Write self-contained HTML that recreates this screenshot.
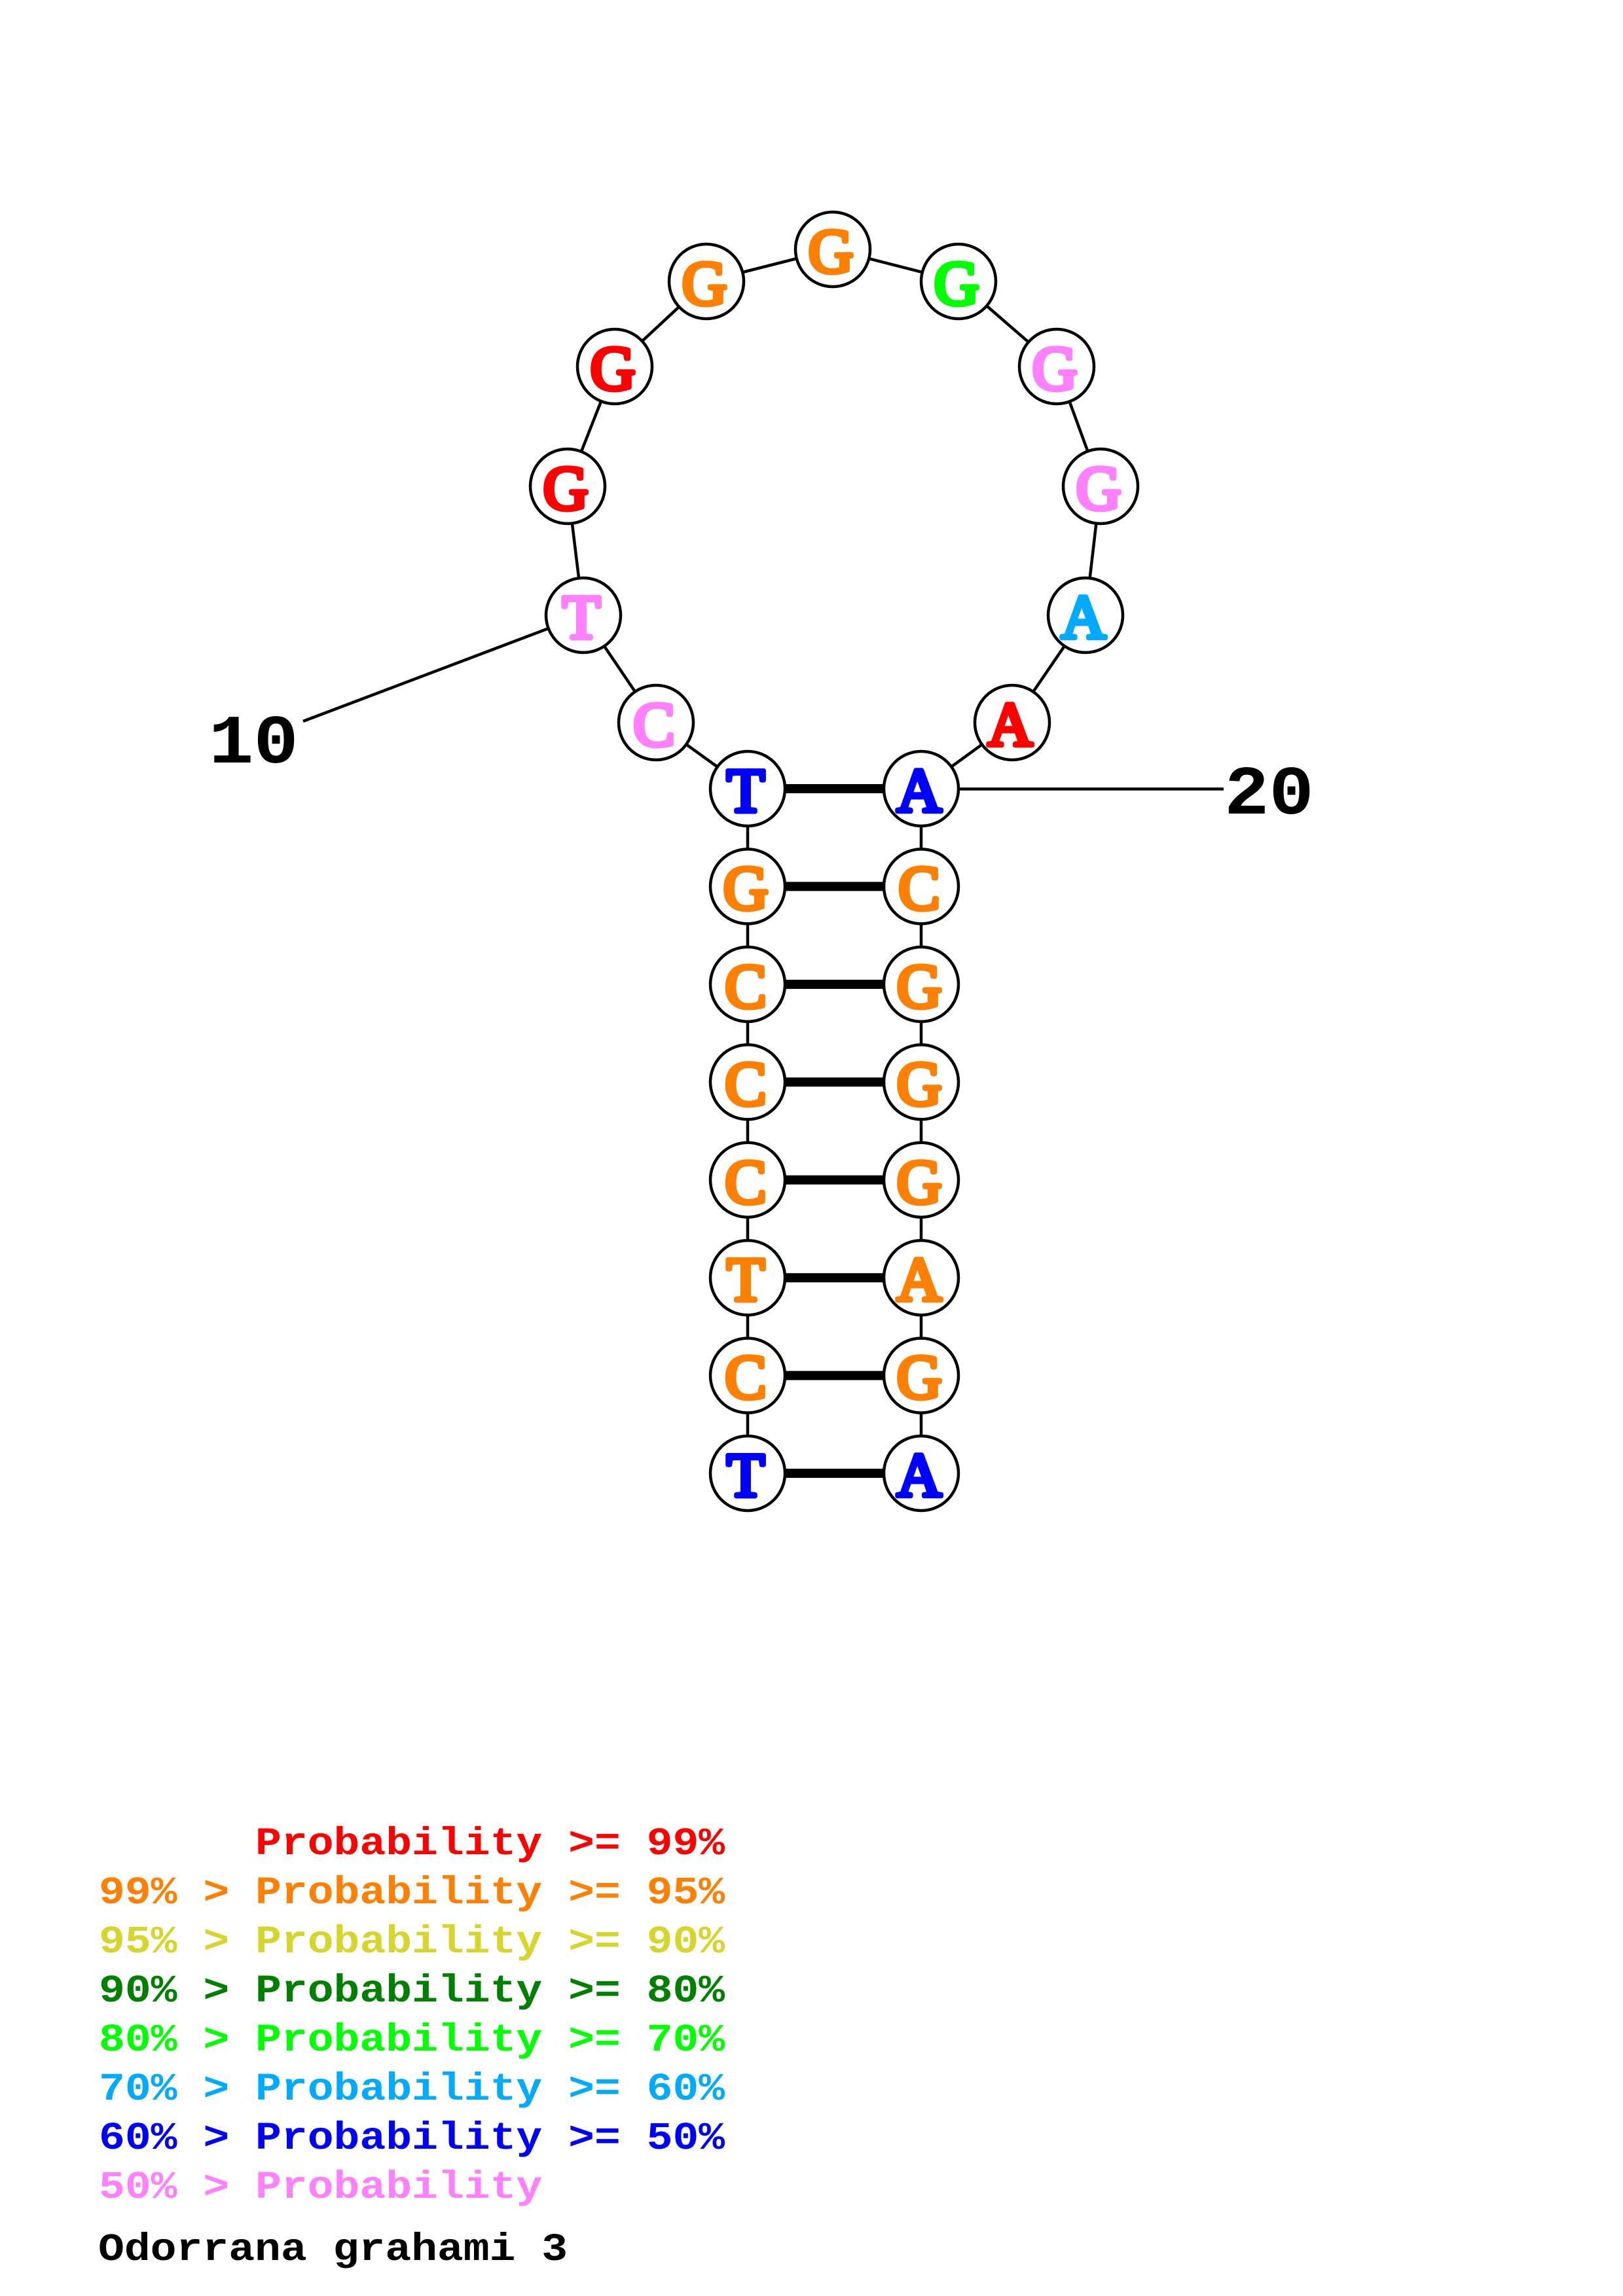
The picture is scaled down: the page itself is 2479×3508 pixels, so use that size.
<!DOCTYPE html>
<html>
<head>
<meta charset="utf-8">
<style>
html,body{margin:0;padding:0;background:#fff;}
svg{display:block;}
text{font-family:"Liberation Mono",monospace;font-weight:bold;}
.b{font-family:"Liberation Serif",serif;font-weight:normal;font-size:95px;text-anchor:middle;stroke-width:7px;stroke-linejoin:round;stroke-linecap:round;}
.n{font-size:114px;fill:#000;}
.l{font-size:66.4px;white-space:pre;}
</style>
</head>
<body>
<svg xmlns="http://www.w3.org/2000/svg" width="2479" height="3508" viewBox="0 0 2479 3508">
<rect width="2479" height="3508" fill="#fff"/>
<g stroke="#000" stroke-width="4.5" fill="none">
<polyline points="1142,2251 1142,1205 1002,1104 891,940 867,743 939,560 1079,430 1272,381 1464,430 1614,560 1681,743 1658,940 1546,1104 1407,1205 1407,2251"/>
<line x1="463" y1="1102" x2="891" y2="940"/>
<line x1="1407" y1="1205.5" x2="1869" y2="1205.5"/>
</g>
<g stroke="#000" stroke-width="14">
<line x1="1142" y1="1205" x2="1407" y2="1205"/>
<line x1="1142" y1="1354.4" x2="1407" y2="1354.4"/>
<line x1="1142" y1="1503.9" x2="1407" y2="1503.9"/>
<line x1="1142" y1="1653.3" x2="1407" y2="1653.3"/>
<line x1="1142" y1="1802.7" x2="1407" y2="1802.7"/>
<line x1="1142" y1="1952.2" x2="1407" y2="1952.2"/>
<line x1="1142" y1="2101.6" x2="1407" y2="2101.6"/>
<line x1="1142" y1="2251" x2="1407" y2="2251"/>
</g>
<g fill="#fff" stroke="#000" stroke-width="4.5">
<circle cx="1142" cy="1205" r="57"/><circle cx="1407" cy="1205" r="57"/>
<circle cx="1142" cy="1354.4" r="57"/><circle cx="1407" cy="1354.4" r="57"/>
<circle cx="1142" cy="1503.9" r="57"/><circle cx="1407" cy="1503.9" r="57"/>
<circle cx="1142" cy="1653.3" r="57"/><circle cx="1407" cy="1653.3" r="57"/>
<circle cx="1142" cy="1802.7" r="57"/><circle cx="1407" cy="1802.7" r="57"/>
<circle cx="1142" cy="1952.2" r="57"/><circle cx="1407" cy="1952.2" r="57"/>
<circle cx="1142" cy="2101.6" r="57"/><circle cx="1407" cy="2101.6" r="57"/>
<circle cx="1142" cy="2251" r="57"/><circle cx="1407" cy="2251" r="57"/>
<circle cx="1002" cy="1104" r="57"/><circle cx="891" cy="940" r="57"/>
<circle cx="867" cy="743" r="57"/><circle cx="939" cy="560" r="57"/>
<circle cx="1079" cy="430" r="57"/><circle cx="1272" cy="381" r="57"/>
<circle cx="1464" cy="430" r="57"/><circle cx="1614" cy="560" r="57"/>
<circle cx="1681" cy="743" r="57"/><circle cx="1658" cy="940" r="57"/>
<circle cx="1546" cy="1104" r="57"/>
</g>
<g transform="translate(0,-4)">
<text class="b" x="1139" y="1244" fill="#0000ff" stroke="#0000ff">T</text><text class="b" x="1404" y="1244" fill="#0000ff" stroke="#0000ff">A</text>
<text class="b" x="1139" y="1393" fill="#ff8000" stroke="#ff8000">G</text><text class="b" x="1404" y="1393" fill="#ff8000" stroke="#ff8000">C</text>
<text class="b" x="1139" y="1543" fill="#ff8000" stroke="#ff8000">C</text><text class="b" x="1404" y="1543" fill="#ff8000" stroke="#ff8000">G</text>
<text class="b" x="1139" y="1692" fill="#ff8000" stroke="#ff8000">C</text><text class="b" x="1404" y="1692" fill="#ff8000" stroke="#ff8000">G</text>
<text class="b" x="1139" y="1842" fill="#ff8000" stroke="#ff8000">C</text><text class="b" x="1404" y="1842" fill="#ff8000" stroke="#ff8000">G</text>
<text class="b" x="1139" y="1991" fill="#ff8000" stroke="#ff8000">T</text><text class="b" x="1404" y="1991" fill="#ff8000" stroke="#ff8000">A</text>
<text class="b" x="1139" y="2140" fill="#ff8000" stroke="#ff8000">C</text><text class="b" x="1404" y="2140" fill="#ff8000" stroke="#ff8000">G</text>
<text class="b" x="1139" y="2290" fill="#0000ff" stroke="#0000ff">T</text><text class="b" x="1404" y="2290" fill="#0000ff" stroke="#0000ff">A</text>
<text class="b" x="999" y="1143" fill="#ff80ff" stroke="#ff80ff">C</text>
<text class="b" x="888" y="979" fill="#ff80ff" stroke="#ff80ff">T</text>
<text class="b" x="864" y="782" fill="#ff0000" stroke="#ff0000">G</text>
<text class="b" x="936" y="599" fill="#ff0000" stroke="#ff0000">G</text>
<text class="b" x="1076" y="469" fill="#ff8000" stroke="#ff8000">G</text>
<text class="b" x="1269" y="420" fill="#ff8000" stroke="#ff8000">G</text>
<text class="b" x="1461" y="469" fill="#00ff00" stroke="#00ff00">G</text>
<text class="b" x="1611" y="599" fill="#ff80ff" stroke="#ff80ff">G</text>
<text class="b" x="1678" y="782" fill="#ff80ff" stroke="#ff80ff">G</text>
<text class="b" x="1655" y="979" fill="#00aaff" stroke="#00aaff">A</text>
<text class="b" x="1543" y="1143" fill="#ff0000" stroke="#ff0000">A</text>
</g>
<text class="n" transform="translate(319,1165) scale(1,.93)">10</text>
<text class="n" transform="translate(1870,1243) scale(1,.93)">20</text>
<text class="l" transform="translate(151,2833) scale(1,.9)" fill="#ff0000">      Probability &gt;= 99%</text>
<text class="l" transform="translate(151,2908) scale(1,.9)" fill="#ff8000">99% &gt; Probability &gt;= 95%</text>
<text class="l" transform="translate(151,2983) scale(1,.9)" fill="#d5d52b">95% &gt; Probability &gt;= 90%</text>
<text class="l" transform="translate(151,3058) scale(1,.9)" fill="#008000">90% &gt; Probability &gt;= 80%</text>
<text class="l" transform="translate(151,3133) scale(1,.9)" fill="#00ff00">80% &gt; Probability &gt;= 70%</text>
<text class="l" transform="translate(151,3208) scale(1,.9)" fill="#00aaff">70% &gt; Probability &gt;= 60%</text>
<text class="l" transform="translate(151,3283) scale(1,.9)" fill="#0000ff">60% &gt; Probability &gt;= 50%</text>
<text class="l" transform="translate(151,3358) scale(1,.9)" fill="#ff80ff">50% &gt; Probability</text>
<text class="l" transform="translate(150,3453) scale(1,.9)" fill="#000">Odorrana grahami 3</text>
</svg>
</body>
</html>
